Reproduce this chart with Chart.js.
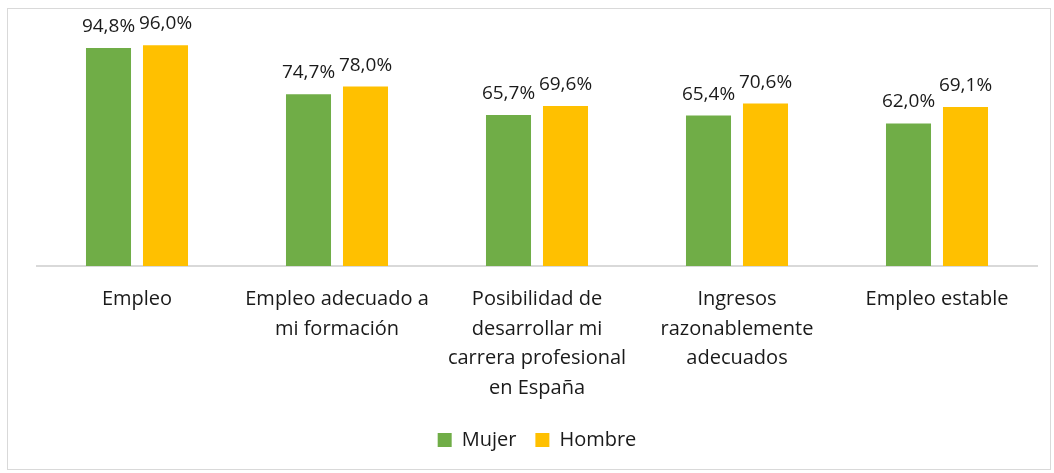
<!DOCTYPE html>
<html>
<head>
<meta charset="utf-8">
<script src="https://cdn.jsdelivr.net/npm/chart.js@4"></script>
<style>
  html, body { margin: 0; padding: 0; background: #fff; }
  #wrap { position: relative; width: 1054px; height: 473px; }
  #frame { position: absolute; left: 7px; top: 8px; width: 1044px; height: 462px; border: 1px solid #d9d9d9; box-sizing: border-box; }
  canvas { position: absolute; left: 0; top: 0; }
</style>
</head>
<body>
<div id="wrap">
  <div id="frame"></div>
  <canvas id="chart" width="1054" height="473"></canvas>
</div>
<script>
const categories = [
    ['Empleo'],
    ['Empleo adecuado a', 'mi formación'],
    ['Posibilidad de', 'desarrollar mi', 'carrera profesional', 'en España'],
    ['Ingresos', 'razonablemente', 'adecuados'],
    ['Empleo estable']
];
const mujer = [94.8, 74.7, 65.7, 65.4, 62.0];
const hombre = [96.0, 78.0, 69.6, 70.6, 69.1];

const FONT = "'Open Sans', 'DejaVu Sans', sans-serif";

// values above each bar, spanish decimal comma
const barLabels = {
    id: 'barLabels',
    afterDatasetsDraw(chart) {
        const ctx = chart.ctx;
        ctx.save();
        ctx.font = '19px ' + FONT;
        ctx.fillStyle = '#1a1a1a';
        ctx.textAlign = 'center';
        ctx.textBaseline = 'alphabetic';
        chart.data.datasets.forEach((ds, i) => {
            chart.getDatasetMeta(i).data.forEach((bar, j) => {
                const txt = ds.data[j].toFixed(1).replace('.', ',') + '%';
                ctx.fillText(txt, bar.x, bar.y - 16);
            });
        });
        ctx.restore();
    }
};

new Chart(document.getElementById('chart'), {
    type: 'bar',
    data: {
        labels: categories,
        datasets: [
            { label: 'Mujer', data: mujer, backgroundColor: '#70ad47' },
            { label: 'Hombre', data: hombre, backgroundColor: '#ffc000' }
        ]
    },
    options: {
        responsive: false,
        animation: false,
        datasets: { bar: { categoryPercentage: 0.57, barPercentage: 0.79 } },
        layout: { padding: { left: 37, right: 17, top: 36, bottom: 13 } },
        scales: {
            x: {
                grid: { display: false },
                border: { color: '#d9d9d9', width: 2 },
                ticks: {
                    color: '#1a1a1a',
                    font: { family: FONT, size: 20, lineHeight: 1.475 },
                    padding: 11,
                    maxRotation: 0,
                    autoSkip: false
                },
                afterFit: (scale) => { scale.height -= 3; }
            },
            y: { display: false, min: 0, max: 100 }
        },
        plugins: {
            legend: {
                position: 'bottom',
                labels: {
                    color: '#1a1a1a',
                    font: { family: FONT, size: 20 },
                    boxWidth: 14,
                    boxHeight: 14,
                    padding: 19
                }
            },
            tooltip: { enabled: false }
        }
    },
    plugins: [barLabels]
});
</script>
</body>
</html>
